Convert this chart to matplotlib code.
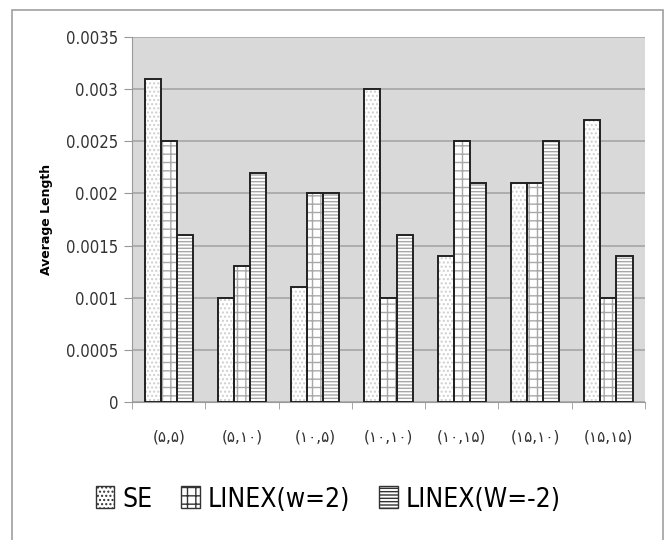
import numpy as np
import matplotlib
matplotlib.use('Agg')
import matplotlib.pyplot as plt
from matplotlib.patches import Rectangle, Patch
from matplotlib.font_manager import FontProperties

# average length per (n, m) setting
categories = ['(۵,۵)', '(۵,۱۰)', '(۱۰,۵)', '(۱۰,۱۰)', '(۱۰,۱۵)', '(۱۵,۱۰)', '(۱۵,۱۵)']
se = [0.0031, 0.0010, 0.0011, 0.0030, 0.0014, 0.0021, 0.0027]
linex_pos = [0.0025, 0.0013, 0.0020, 0.0010, 0.0025, 0.0021, 0.0010]
linex_neg = [0.0016, 0.0022, 0.0020, 0.0016, 0.0021, 0.0025, 0.0014]
series_names = ['SE', 'LINEX(w=2)', 'LINEX(W=-2)']
yticks = [0, 0.0005, 0.001, 0.0015, 0.002, 0.0025, 0.003, 0.0035]
ytick_labels = ['0', '0.0005', '0.001', '0.0015', '0.002', '0.0025', '0.003', '0.0035']

plt.rcParams['font.family'] = ['Open Sans', 'DejaVu Sans']

fig = plt.figure(figsize=(6.67, 5.4), dpi=100)
ax = fig.add_axes([0.198, 0.2556, 0.769, 0.676])
ax.set_facecolor('#d9d9d9')

# outer frame around the whole chart
fig.patches.append(Rectangle((12 / 667, -0.05), 651 / 667, 1.05 - 10 / 540,
                             transform=fig.transFigure, fill=False,
                             edgecolor='#a0a0a0', linewidth=1.2))

x = np.arange(len(categories))
w = 0.22
hatches = ['....', '++', '-----']
hatch_colors = ['#cfcfcf', '#a8a8a8', '#a8a8a8']
data = [se, linex_pos, linex_neg]
for i, (vals, h, hc) in enumerate(zip(data, hatches, hatch_colors)):
    pos = x + (i - 1) * w
    ax.bar(pos, vals, w, color='white', edgecolor=hc, hatch=h,
           linewidth=0, zorder=3)
    ax.bar(pos, vals, w, color='none', edgecolor='#222222', linewidth=1.4,
           zorder=4)

ax.set_ylim(0, 0.0035)
ax.set_xlim(-0.5, len(categories) - 0.5)
ax.set_yticks(yticks)
ax.set_yticklabels(ytick_labels, fontsize=12, color='#333333',
                   family='DejaVu Sans', stretch='condensed')
ax.yaxis.grid(True, color='#a6a6a6', linewidth=1.2, zorder=0)
ax.set_axisbelow(True)

ax.set_xticks(x)
ax.set_xticklabels(categories, fontsize=11, color='#333333',
                   family=['DejaVu Sans', 'Noto Sans'])
ax.set_xticks(np.arange(-0.5, len(categories), 1), minor=True)
ax.tick_params(axis='x', which='major', length=0, pad=20)
ax.tick_params(axis='x', which='minor', length=5, color='#999999')
ax.tick_params(axis='y', length=6, color='#999999', pad=4)

for side in ['top', 'right']:
    ax.spines[side].set_visible(False)
ax.spines['left'].set_color('#999999')
ax.spines['bottom'].set_color('#999999')

ax.set_ylabel('Average Length', fontsize=9, fontweight='bold', labelpad=9,
              family=['DejaVu Sans'])

handles = [Patch(facecolor='white', edgecolor='#333333', hatch=h)
           for h in hatches]
legend_font = FontProperties(family='DejaVu Sans', stretch='condensed', size=19)
fig.legend(handles, series_names, loc='center', bbox_to_anchor=(0.492, 0.075),
           ncol=3, frameon=False, prop=legend_font, handlelength=0.7,
           handleheight=0.9, handletextpad=0.3, columnspacing=1.1)

plt.savefig('out.png', dpi=100)
